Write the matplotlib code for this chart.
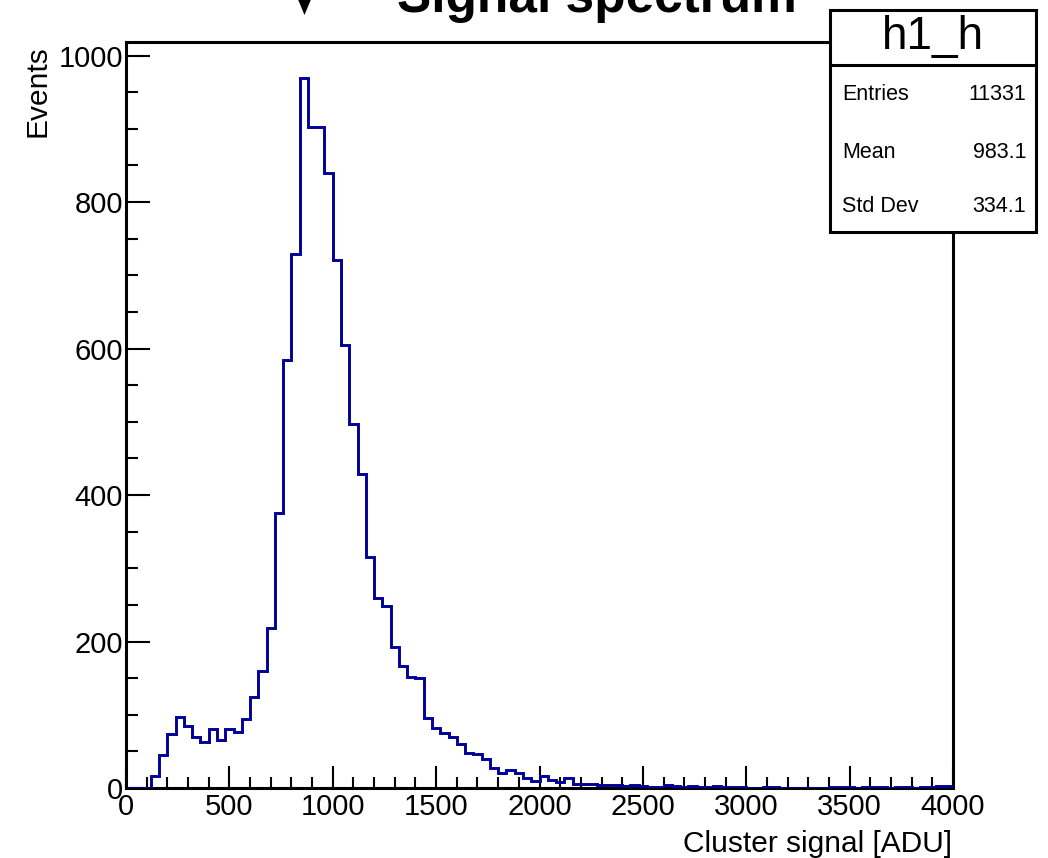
import numpy as np
import matplotlib
matplotlib.use("Agg")
import matplotlib.pyplot as plt
from matplotlib.patches import Rectangle, Polygon
from matplotlib.lines import Line2D
from matplotlib.ticker import MultipleLocator

# ---------------- data ----------------
bin_start = 0.0
bin_width = 40.0
counts = [
    0, 0, 0, 16, 45, 74, 97, 84, 70, 63,
    81, 66, 81, 77, 94, 124, 160, 218, 376, 585,
    729, 970, 903, 902, 839, 721, 605, 497, 429, 316,
    259, 249, 193, 167, 152, 150, 95, 82, 75, 70,
    60, 48, 46, 40, 27, 20, 24, 21, 13, 10,
    17, 11, 8, 13, 6, 5, 5, 4, 4, 4,
    3, 4, 3, 2, 2, 4, 3, 2, 3, 2,
    1, 3, 2, 1, 1, 0, 0, 1, 2, 0,
    0, 0, 0, 0, 0, 1, 1, 2, 0, 1,
    1, 1, 0, 1, 1, 0, 1, 1, 3, 3,
]
x_ticks = [0, 500, 1000, 1500, 2000, 2500, 3000, 3500, 4000]
y_ticks = [0, 200, 400, 600, 800, 1000]
title = "Signal spectrum"
hist_name = "h1_h"
stat_labels = ["Entries", "Mean", "Std Dev"]
stat_values = ["11331", "983.1", "334.1"]
x_label = "Cluster signal [ADU]"
y_label = "Events"

# ---------------- style ----------------
plt.rcParams['font.family'] = ['Liberation Sans', 'DejaVu Sans']
W, H = 1048, 858
fig = plt.figure(figsize=(W / 100, H / 100), dpi=100)
fig.patch.set_facecolor('white')

def fx(px):
    return px / W

def fy(py):
    return 1 - py / H

left, right, top, bottom = 126, 953, 42, 788
ax = fig.add_axes([fx(left), fy(bottom), fx(right) - fx(left), fy(top) - fy(bottom)])

counts = np.asarray(counts, dtype=float)
edges = bin_start + bin_width * np.arange(len(counts) + 1)
ax.stairs(counts, edges, baseline=0, color='#000099', linewidth=2.1, zorder=3)

ax.set_xlim(edges[0], edges[-1])
ax.set_ylim(0, 1.05 * counts.max())

ax.set_xticks(x_ticks)
ax.set_yticks(y_ticks)
ax.set_xticklabels([str(v) for v in x_ticks])
ax.set_yticklabels([str(v) for v in y_ticks])
ax.xaxis.set_minor_locator(MultipleLocator(100))
ax.yaxis.set_minor_locator(MultipleLocator(50))

ax.tick_params(axis='both', which='both', direction='in', top=False, right=False,
               width=1.5, color='black', labelsize=21)
ax.tick_params(axis='x', which='major', length=16, pad=3.5)
ax.tick_params(axis='x', which='minor', length=8)
ax.tick_params(axis='y', which='major', length=17.5, pad=2)
ax.tick_params(axis='y', which='minor', length=8.5)

for s in ax.spines.values():
    s.set_linewidth(2.2)
    s.set_color('black')

# axis titles
fig.text(fx(952), fy(852), x_label, ha='right', va='baseline', fontsize=21.5)
fig.text(fx(38), fy(45), y_label, ha='center', va='top', rotation=90, fontsize=21.5)

# cut-off title
fig.text(fx(597), fy(12), title, ha='center', va='baseline', fontsize=37,
         fontweight='bold')

# small marker at top
fig.patches.append(Polygon([(fx(297), fy(-3)), (fx(312), fy(-3)), (fx(304.5), fy(15))],
                           closed=True, facecolor='black', edgecolor='none',
                           transform=fig.transFigure, figure=fig, zorder=5))

# stats box
bx0, bx1, by0, by1 = 830, 1036, 10, 232
fig.patches.append(Rectangle((fx(bx0), fy(by1)), fx(bx1) - fx(bx0), fy(by0) - fy(by1),
                             facecolor='white', edgecolor='black', linewidth=2.2,
                             transform=fig.transFigure, figure=fig, zorder=10))
fig.lines.append(Line2D([fx(bx0), fx(bx1)], [fy(65), fy(65)], color='black',
                        linewidth=2.2, transform=fig.transFigure, figure=fig, zorder=11))
fig.text(fx(933), fy(37), hist_name, ha='center', va='center', fontsize=33, zorder=12)
row_y = [95, 152, 207]
for lab, val, yy in zip(stat_labels, stat_values, row_y):
    fig.text(fx(842), fy(yy), lab, ha='left', va='center', fontsize=15.5, zorder=12)
    fig.text(fx(1026), fy(yy), val, ha='right', va='center', fontsize=15.5, zorder=12)

fig.savefig('out.png', dpi=100)
